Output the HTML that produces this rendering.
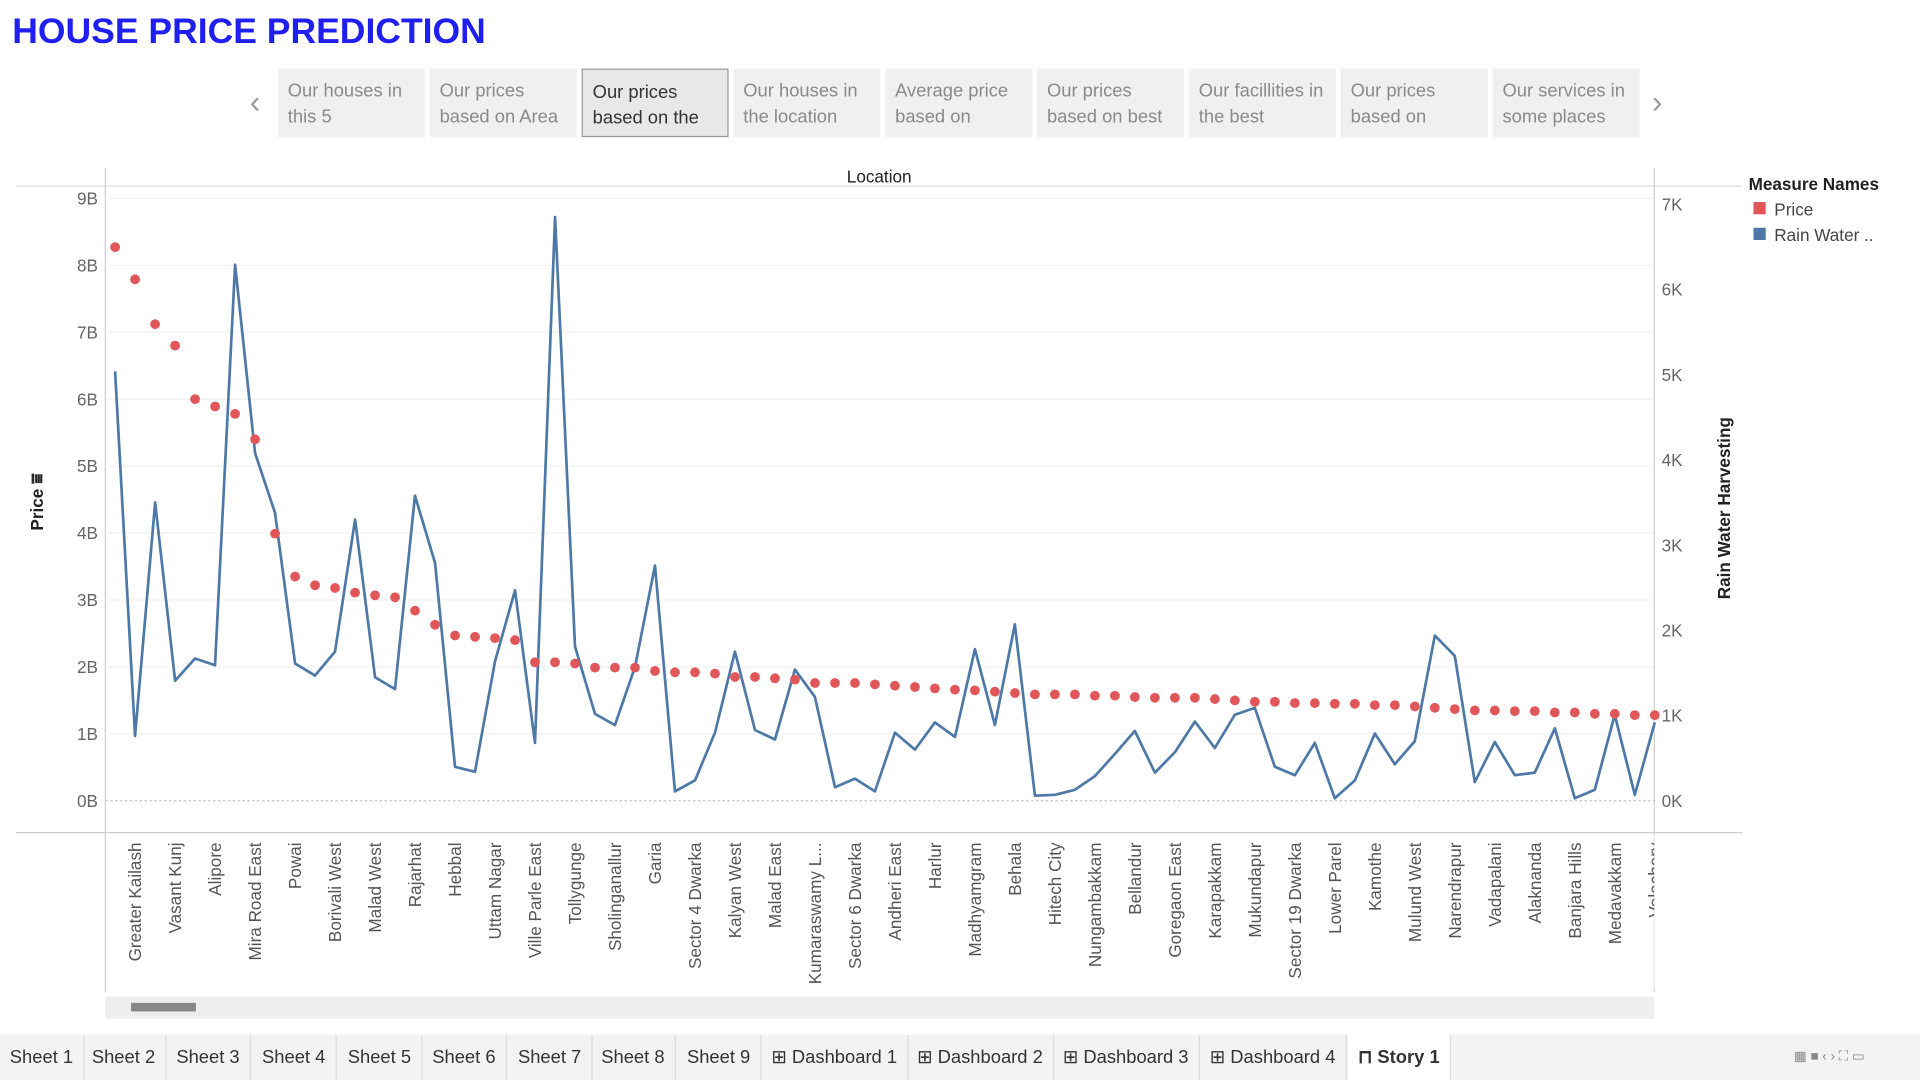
<!DOCTYPE html>
<html><head><meta charset="utf-8"><style>
html,body{margin:0;padding:0;background:#fff;overflow:hidden}
#root{width:1568px;height:882px;transform:scale(1.22449);transform-origin:0 0;position:relative;font-family:"Liberation Sans",sans-serif}
.title{position:absolute;left:10px;top:10px;font-size:29px;font-weight:bold;color:#1f1ff0}
.tab{position:absolute;top:56px;width:120px;height:56px;background:#f0f0f0;color:#8a8a8a;font-size:15px;line-height:21px;box-sizing:border-box;padding:8px 8px;overflow:hidden}
.tab.sel{background:#e8e8e8;border:1px solid #9a9a9a;color:#333}
.arrow{position:absolute;top:68px;color:#999;font-size:26px}
.btabs{position:absolute;left:0;top:845px;width:1568px;height:37px;background:#f3f3f3;font-size:15px;color:#333}
.bt{position:absolute;top:0;height:37px;line-height:37px;border-right:1px solid #ddd;padding:0 8px;box-sizing:border-box}
</style></head><body><div id="root">
<div class="title">HOUSE PRICE PREDICTION</div>
<div class="arrow" style="left:204px">‹</div>
<div class="arrow" style="left:1349px">›</div>
<div class="tab" style="left:227px">Our houses in this 5</div>
<div class="tab" style="left:351px">Our prices based on Area</div>
<div class="tab sel" style="left:475px">Our prices based on the</div>
<div class="tab" style="left:599px">Our houses in the location</div>
<div class="tab" style="left:723px">Average price based on</div>
<div class="tab" style="left:847px">Our prices based on best</div>
<div class="tab" style="left:971px">Our facillities in the best</div>
<div class="tab" style="left:1095px">Our prices based on</div>
<div class="tab" style="left:1219px">Our services in some places</div>
<svg id="chart" width="1568" height="882" style="position:absolute;left:0;top:0"></svg>
<div class="btabs">
<div class="bt" style="left:0">Sheet 1</div>
<div class="bt" style="left:67px">Sheet 2</div>
<div class="bt" style="left:136px">Sheet 3</div>
<div class="bt" style="left:206px">Sheet 4</div>
<div class="bt" style="left:276px">Sheet 5</div>
<div class="bt" style="left:345px">Sheet 6</div>
<div class="bt" style="left:415px">Sheet 7</div>
<div class="bt" style="left:483px">Sheet 8</div>
<div class="bt" style="left:553px">Sheet 9</div>
<div class="bt" style="left:622px">⊞ Dashboard 1</div>
<div class="bt" style="left:741px">⊞ Dashboard 2</div>
<div class="bt" style="left:860px">⊞ Dashboard 3</div>
<div class="bt" style="left:980px">⊞ Dashboard 4</div>
<div class="bt" style="left:1101px;background:#fff;font-weight:bold">⊓ Story 1</div>
<div style="position:absolute;left:1465px;top:0;line-height:37px;color:#888;font-size:11px">▦ ■ ‹ › ⛶ ▭</div>
</div>
</div>
<script>
const categories=["Defence Colony","Greater Kailash","Juhu","Vasant Kunj","Bandra West","Alipore","Worli","Mira Road East","Adyar","Powai","Whitefield","Borivali West","Chembur","Malad West","Thane West","Rajarhat","Salt Lake","Hebbal","Dwarka","Uttam Nagar","Koramangala","Ville Parle East","Anna Nagar","Tollygunge","Electronic City","Sholinganallur","Kandivali East","Garia","Sarjapur","Sector 4 Dwarka","Dum Dum","Kalyan West","Marathahalli","Malad East","Kondapur","Kumaraswamy L...","Rohini","Sector 6 Dwarka","Porur","Andheri East","Panvel","Harlur","Gachibowli","Madhyamgram","Perungudi","Behala","Madhapur","Hitech City","Velachery West","Nungambakkam","Kukatpally","Bellandur","Tambaram","Goregaon East","Baranagar","Karapakkam","Miyapur","Mukundapur","Yelahanka","Sector 19 Dwarka","Kharghar","Lower Parel","Ulwe","Kamothe","Guindy","Mulund West","Sodepur","Narendrapur","Pallavaram","Vadapalani","Manikonda","Alaknanda","Dahisar","Banjara Hills","Chromepet","Medavakkam","Nerul","Velachery"];
const priceB=[8.27,7.79,7.12,6.80,6.0,5.89,5.78,5.40,3.99,3.35,3.22,3.18,3.11,3.07,3.04,2.84,2.63,2.47,2.45,2.43,2.40,2.07,2.07,2.05,1.99,1.99,1.99,1.94,1.92,1.92,1.90,1.85,1.85,1.83,1.81,1.76,1.76,1.76,1.74,1.72,1.70,1.68,1.66,1.65,1.63,1.61,1.59,1.59,1.59,1.57,1.57,1.55,1.54,1.54,1.54,1.52,1.50,1.48,1.48,1.46,1.46,1.45,1.45,1.43,1.43,1.41,1.39,1.37,1.35,1.35,1.34,1.34,1.32,1.32,1.30,1.30,1.28,1.28];
const rainK=[5.04,0.76,3.5,1.41,1.67,1.59,6.29,4.08,3.38,1.61,1.47,1.75,3.30,1.45,1.31,3.58,2.79,0.40,0.34,1.64,2.47,0.68,6.85,1.81,1.02,0.89,1.57,2.76,0.11,0.24,0.80,1.75,0.83,0.72,1.54,1.22,0.16,0.26,0.11,0.80,0.60,0.92,0.75,1.78,0.89,2.07,0.06,0.07,0.13,0.29,0.55,0.82,0.33,0.57,0.93,0.62,1.01,1.09,0.40,0.30,0.68,0.03,0.24,0.79,0.43,0.70,1.94,1.70,0.22,0.69,0.30,0.33,0.85,0.03,0.13,1.01,0.07,0.92];
const leftTicks=[0,1,2,3,4,5,6,7,8,9];
const rightTicks=[0,1,2,3,4,5,6,7];
const svg=document.getElementById('chart');const NS='http://www.w3.org/2000/svg';
function mk(t,a,txt){const e=document.createElementNS(NS,t);for(const k in a)e.setAttribute(k,a[k]);if(txt!==undefined)e.textContent=txt;svg.appendChild(e);return e;}
const x=i=>94+i*16.33;
const yL=v=>654-v*54.67;
const yR=v=>654-v*69.6;
// frame
let e;
e=mk('line',{x1:13,y1:152,x2:1423,y2:152,stroke:'#ddd'});
e=mk('line',{x1:13,y1:680,x2:1423,y2:680,stroke:'#ccc'});
e=mk('line',{x1:86,y1:137,x2:86,y2:810,stroke:'#ccc'});
e=mk('line',{x1:1351,y1:137,x2:1351,y2:810,stroke:'#ccc'});
e=mk('text',{x:718,y:149,'text-anchor':'middle','font-size':14,fill:'#222'},'Location');
leftTicks.forEach(t=>{
 const y=yL(t);
 e=mk('line',{x1:86,y1:y,x2:1351,y2:y,stroke:t===0?'#bbb':'#f0f0f0','stroke-dasharray':t===0?'2,2':''});
 e=mk('text',{x:80,y:y+5,'text-anchor':'end','font-size':14,fill:'#666'},t+'B');
});
rightTicks.forEach(t=>{
 e=mk('text',{x:1357,y:yR(t)+5,'font-size':14,fill:'#666'},t+'K');
});
e=mk('text',{x:35,y:410,'text-anchor':'middle','font-size':14,'font-weight':'bold',fill:'#222',transform:'rotate(-90 35 410)'},'Price ⩸');
e=mk('text',{x:1413,y:415,'text-anchor':'middle','font-size':14,'font-weight':'bold',fill:'#222',transform:'rotate(-90 1413 415)'},'Rain Water Harvesting');
// line
const pts=rainK.map((v,i)=>x(i).toFixed(1)+','+yR(v).toFixed(1)).join(' ');
e=mk('polyline',{points:pts,fill:'none',stroke:'#4e79a7','stroke-width':2.2,'stroke-linejoin':'round'});
priceB.forEach((v,i)=>{
 e=mk('circle',{cx:x(i),cy:yL(v),r:4,fill:'#e15759'});
});
categories.forEach((c,i)=>{
 if(i%2!==1)return;
 const xx=x(i)+5;
 e=mk('text',{x:xx,y:688,'text-anchor':'end','font-size':14,fill:'#555',transform:`rotate(-90 ${xx} 688)`},c);
});
e=mk('rect',{x:1351,y:682,width:20,height:126,fill:'#fff'});
e=mk('rect',{x:86,y:814,width:1265,height:18,fill:'#eeeeee'});
e=mk('rect',{x:107,y:819,width:53,height:7,fill:'#888'});
// legend
e=mk('text',{x:1428,y:155,'font-size':14,'font-weight':'bold',fill:'#222'},'Measure Names');
e=mk('rect',{x:1432,y:165,width:10,height:10,fill:'#e15759'});
e=mk('text',{x:1449,y:176,'font-size':14,fill:'#444'},'Price');
e=mk('rect',{x:1432,y:186,width:10,height:10,fill:'#4e79a7'});
e=mk('text',{x:1449,y:197,'font-size':14,fill:'#444'},'Rain Water ..');
</script>
</body></html>
